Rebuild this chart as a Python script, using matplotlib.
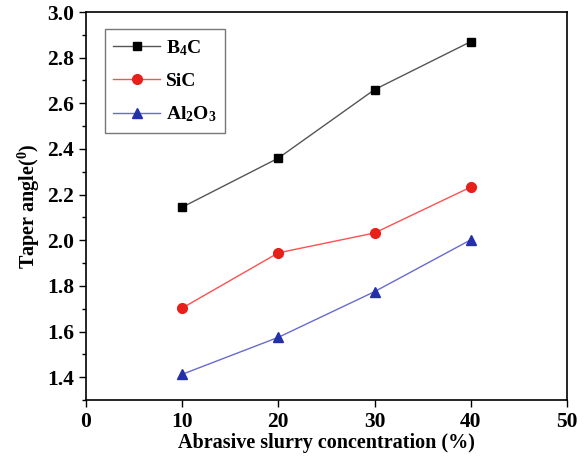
import matplotlib.pyplot as plt
from matplotlib.ticker import MultipleLocator

plt.rcParams['font.family'] = 'Liberation Serif'
plt.rcParams['font.weight'] = 'bold'
plt.rcParams['mathtext.fontset'] = 'custom'
plt.rcParams['mathtext.rm'] = 'Liberation Serif:bold'
plt.rcParams['mathtext.bf'] = 'Liberation Serif:bold'
plt.rcParams['mathtext.it'] = 'Liberation Serif:bold'
plt.rcParams['mathtext.default'] = 'bf'

# slurry concentration (%) and taper angle for each abrasive
conc = [10, 20, 30, 40]
b4c = [2.145, 2.36, 2.66, 2.87]
sic = [1.703, 1.945, 2.032, 2.233]
al2o3 = [1.413, 1.575, 1.775, 2.002]

fig = plt.figure(figsize=(5.85, 4.62), dpi=100)
ax = fig.add_axes([0.147, 0.134, 0.822, 0.840])

ax.plot(conc, b4c, color='#555555', lw=1, marker='s', ms=6,
        mfc='black', mec='black', label='B$_4$C')
ax.plot(conc, sic, color='#ff5050', lw=1, marker='o', ms=7,
        mfc='#e8201a', mec='#e8201a', label='SiC')
ax.plot(conc, al2o3, color='#6a6ad0', lw=1, marker='^', ms=7,
        mfc='#2430a8', mec='#2430a8', label='Al$_2$O$_3$')

ax.set_xlim(0, 50)
ax.set_ylim(1.3, 3.0)
ax.xaxis.set_major_locator(MultipleLocator(10))
ax.yaxis.set_major_locator(MultipleLocator(0.2))
ax.yaxis.set_minor_locator(MultipleLocator(0.1))
ax.tick_params(which='both', direction='out', labelsize=15.5, width=1)
ax.tick_params(which='major', length=5)
ax.tick_params(which='minor', length=3)
for lab in ax.get_xticklabels() + ax.get_yticklabels():
    lab.set_fontweight('bold')
for sp in ax.spines.values():
    sp.set_linewidth(1.2)

ax.set_xlabel('Abrasive slurry concentration (%)', fontsize=14.5, fontweight='bold', labelpad=1)
ax.set_ylabel('Taper angle($^0$)', fontsize=14.5, fontweight='bold', labelpad=4)

leg = ax.legend(loc='upper left', bbox_to_anchor=(0.039, 0.956), fontsize=14,
                frameon=True, fancybox=False, edgecolor='#555555',
                handlelength=2.4, handletextpad=0.3, borderpad=0.45,
                labelspacing=0.75, borderaxespad=0)
leg.get_frame().set_linewidth(1)

fig.savefig('out.png', dpi=100)
